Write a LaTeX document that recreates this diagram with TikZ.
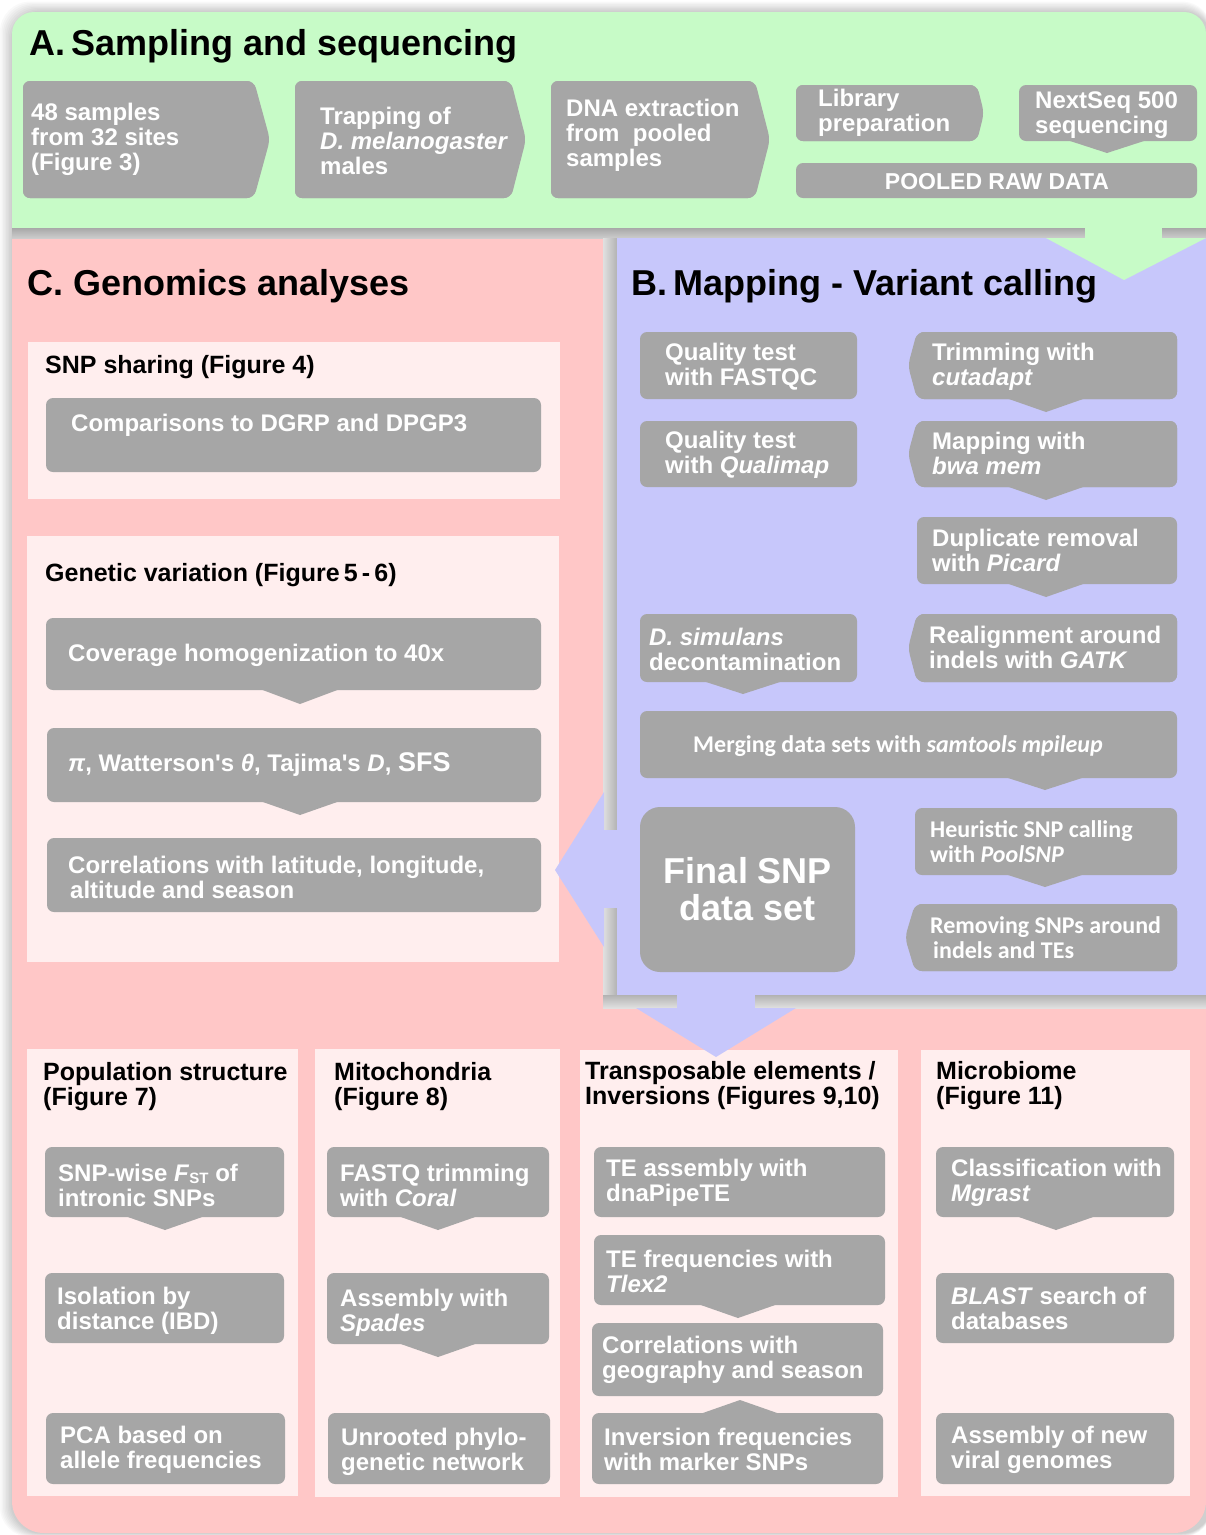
\documentclass[tikz,border=0pt]{standalone}
\usepackage{fontspec}
\setmainfont{Liberation Sans}
\newfontfamily\calib{Carlito}
\usetikzlibrary{calc}
\definecolor{greenbg}{HTML}{C7FBC7}
\definecolor{pinkbg}{HTML}{FFC7C7}
\definecolor{lavbg}{HTML}{C7C7FB}
\definecolor{panelbg}{HTML}{FFEEEE}
\definecolor{boxgray}{HTML}{A6A6A6}
\tikzset{
 gb/.style={fill=boxgray, rounded corners=7pt, inner sep=0pt, outer sep=0pt},
 bt/.style={text=white, font=\bfseries\fontsize{24}{25}\selectfont, align=left, inner sep=0pt, anchor=west},
 ct/.style={text=white, font=\calib\bfseries\fontsize{24}{25}\selectfont, align=left, inner sep=0pt, anchor=west},
 ptitle/.style={text=black, font=\bfseries\fontsize{25}{25}\selectfont, align=left, inner sep=0pt, anchor=west},
 ttl/.style={text=black, font=\bfseries\fontsize{36}{40}\selectfont, inner sep=0pt, anchor=base west},
 subpanel/.style={fill=panelbg, inner sep=0pt, outer sep=0pt},
}
\newcommand\gbx[9]{%
 \node[gb, minimum width={#4-#2}, minimum height={#5-#3}] (#1) at ({(#2+#4)/2},{(#3+#5)/2}) {};
 #8
 \node[bt] (#1t) at (#6,{(#3+#5)/2+#7}) {#9};}
\newcommand\cbx[9]{%
 \node[gb, minimum width={#4-#2}, minimum height={#5-#3}] (#1) at ({(#2+#4)/2},{(#3+#5)/2}) {};
 #8
 \node[ct] (#1t) at (#6,{(#3+#5)/2+#7}) {#9};}
\newcommand\spn[5]{\node[subpanel, minimum width={#4-#2}, minimum height={#5-#3}] (#1) at ({(#2+#4)/2},{(#3+#5)/2}) {};}
\newcommand\tipR[2]{\fill[boxgray, rounded corners=7pt] (#1.north west) -- (#1.north east) -- ($(#1.east)+(#2,0)$) -- (#1.south east) -- (#1.south west) -- cycle;}
\newcommand\tipL[2]{\fill[boxgray, rounded corners=7pt] (#1.north east) -- (#1.north west) -- ($(#1.west)+(-#2,0)$) -- (#1.south west) -- (#1.south east) -- cycle;}
\newcommand\tipD[3]{\coordinate (tipx) at (#2,0);
 \fill[boxgray] ($(tipx |- #1.south)+(-40,-1)$) -- ($(tipx |- #1.south)+(0,#3)$) -- ($(tipx |- #1.south)+(40,-1)$) -- cycle;}
\newcommand\tipU[3]{\coordinate (tipx) at (#2,0);
 \fill[boxgray] ($(tipx |- #1.north)+(-40,1)$) -- ($(tipx |- #1.north)+(0,-#3)$) -- ($(tipx |- #1.north)+(40,1)$) -- cycle;}
\begin{document}
\begin{tikzpicture}[x=1pt,y=-1pt]
\useasboundingbox (0,0) rectangle (1206,1535);
\fill[white] (0,0) rectangle (1206,1535);
\foreach \i in {1,...,8}{\fill[black,opacity=0.025,rounded corners=30] ({12-1.5*\i},{12-1.3*\i}) rectangle (1212,{1533+0.5*\i});}
% panel C background
\fill[pinkbg] (12,200) rectangle (1206,1400);
\fill[pinkbg,rounded corners=32] (12,1100) rectangle (1206,1533);
% panel A background
\fill[greenbg,rounded corners=22] (12,12) rectangle (1206,150);
\fill[greenbg] (12,60) rectangle (1206,228);
\shade[top color=black!34,bottom color=black!20] (12,228) rectangle (1206,238);
% panel B background
\shade[left color=black!12,right color=black!30] (603,238) rectangle (617,1008);
\shade[top color=black!30,bottom color=black!12] (603,995) rectangle (1206,1008);
\fill[lavbg] (617,238) rectangle (1206,995);
% sub panels
\spn{sp1}{28}{342}{560}{499}
\spn{sp2}{27}{536}{559}{962}
\spn{sp3}{27}{1049}{298}{1496}
\spn{sp4}{315}{1049}{560}{1497}
\spn{sp5}{580}{1050}{898}{1497}
\spn{sp6}{921}{1050}{1190}{1496}
% block arrows between panels
\fill[greenbg] (1085,226) rectangle (1162,239);
\fill[greenbg] (1046,238) -- (1206,238) -- (1124,280) -- cycle;
\fill[lavbg] (600,830) rectangle (618,908);
\fill[lavbg] (604,792) -- (555,870) -- (604,947) -- cycle;
\fill[lavbg] (677,993) rectangle (755,1009);
\fill[lavbg] (636,1008) -- (796,1008) -- (716,1057) -- cycle;
% titles
\node[ttl] (titleA) at (29,55) {A.\,Sampling and sequencing};
\node[ttl] (titleB) at (631,295) {B.\,Mapping - Variant calling};
\node[ttl] (titleC) at (27,295) {C. Genomics analyses};
% panel A
\gbx{a1}{23}{81}{254}{198}{31}{0}{\tipR{a1}{16}}{48 samples\\from 32 sites\\(Figure 3)}
\gbx{a2}{295}{81}{511}{198}{320}{1}{\tipR{a2}{15}}{Trapping of\\\textit{D. melanogaster}\\males}
\gbx{a3}{551}{81}{755}{198}{566}{-4}{\tipR{a3}{15}}{DNA extraction\\from\ \ pooled\\samples}
\gbx{a4}{796}{85}{977}{141}{818}{0}{\tipR{a4}{7}}{Library\\preparation}
\gbx{a5}{1019}{85}{1197}{141}{1035}{2}{\tipD{a5}{1107}{12}}{NextSeq 500\\sequencing}
\node[gb, minimum width=401, minimum height=35] (a6) at (996.5,180.5) {};
\node[bt, anchor=center, font=\bfseries\fontsize{23}{25}\selectfont] (a6t) at (997,182) {POOLED RAW DATA};
% panel B
\gbx{q1}{640}{332}{857}{399}{665}{1}{}{Quality test\\with FASTQC}
\gbx{tr}{917}{332}{1177}{399}{932}{1}{\tipL{tr}{9}\tipD{tr}{1046}{13}}{Trimming with\\\textit{cutadapt}}
\gbx{q2}{640}{421}{857}{487}{665}{1}{}{Quality test\\with \textit{Qualimap}}
\gbx{mp}{917}{421}{1177}{487}{932}{-1}{\tipL{mp}{9}\tipD{mp}{1046}{13}}{Mapping with\\\textit{bwa mem}}
\gbx{du}{917}{517}{1177}{584}{932}{0}{\tipD{du}{1046}{13}}{Duplicate removal\\with \textit{Picard}}
\gbx{ds}{640}{614}{857}{682}{649}{1}{\tipD{ds}{743}{12}}{\textit{D. simulans}\\decontamination}
\gbx{ra}{917}{614}{1177}{682}{929}{-1}{\tipL{ra}{9}}{Realignment around\\indels with \textit{GATK}}
\node[gb, minimum width=537, minimum height=67] (mg) at (908.5,744.5) {};
\tipD{mg}{1045}{12}
\node[ct, anchor=center] (mgt) at (898,746) {Merging data sets with \textit{samtools mpileup}};
\node[gb, rounded corners=20pt, minimum width=215, minimum height=165] (fs) at (747.5,889.5) {};
\node[bt, anchor=center, align=center, font=\bfseries\fontsize{36}{37}\selectfont] (fst) at (748,889) {Final SNP\\data set};
\cbx{he}{915}{808}{1177}{875}{930}{0}{\tipD{he}{1045}{12}}{Heuristic SNP calling\\with \textit{PoolSNP}}
\cbx{rm}{915}{904}{1177}{971}{930}{0}{\tipL{rm}{10}}{Removing SNPs around\\\hspace{3pt}indels and TEs}
% panel C
\node[ptitle] (sp1t) at (45,367) {SNP sharing (Figure 4)};
\gbx{cp}{46}{398}{541}{472}{71}{-10}{}{Comparisons to DGRP and DPGP3}
\node[ptitle] (sp2t) at (45,575) {Genetic variation (Figure\,5\,-\,6)};
\gbx{cv}{46}{618}{541}{690}{68}{1}{\tipD{cv}{300}{14}}{Coverage homogenization to 40x}
\gbx{wt}{47}{728}{541}{802}{68}{0}{\tipD{wt}{300}{13}}{\textit{π}, Watterson\textquotesingle s \textit{θ}, Tajima\textquotesingle s \textit{D}, {\fontsize{27}{25}\selectfont SFS}}
\gbx{cr}{47}{838}{541}{912}{68}{2}{}{Correlations with latitude, longitude,\\\hspace{2pt}altitude and season}
% bottom sub panels
\node[ptitle] (sp3t) at (43,1087) {Population structure\\(Figure 7)};
\gbx{p1}{45}{1147}{284}{1217}{58}{3}{\tipD{p1}{165}{13}}{SNP-wise \textit{F}\raisebox{-2pt}{\fontsize{15}{15}\selectfont ST} of\\intronic SNPs}
\gbx{p2}{45}{1273}{284}{1343}{57}{3}{}{Isolation by\\distance (IBD)}
\gbx{p3}{46}{1413}{285}{1484}{60}{1}{}{PCA based on\\allele frequencies}
\node[ptitle] (sp4t) at (334,1087) {Mitochondria\\(Figure 8)};
\gbx{m1}{327}{1147}{549}{1217}{340}{3}{\tipD{m1}{438}{13}}{FASTQ trimming\\with \textit{Coral}}
\gbx{m2}{327}{1273}{549}{1344}{340}{4}{\tipD{m2}{438}{13}}{Assembly with\\\textit{Spades}}
\gbx{m3}{328}{1413}{550}{1484}{341}{3}{}{Unrooted phylo-\\genetic network}
\node[ptitle] (sp5t) at (585,1086) {Transposable elements /\\Inversions (Figures 9,10)};
\gbx{t1}{594}{1147}{885}{1217}{606}{1}{}{TE assembly with\\dnaPipeTE}
\gbx{t2}{594}{1235}{885}{1305}{606}{1}{\tipD{t2}{738}{13}}{TE frequencies with\\\textit{Tlex2}}
\gbx{t3}{592}{1323}{883}{1396}{602}{0}{}{Correlations with\\geography and season}
\gbx{t4}{592}{1413}{883}{1484}{604}{1}{\tipU{t4}{740}{13}}{Inversion frequencies\\with marker SNPs}
\node[ptitle] (sp6t) at (936,1086) {Microbiome\\(Figure 11)};
\gbx{c1}{936}{1147}{1174}{1217}{951}{1}{\tipD{c1}{1056}{13}}{Classification with\\\textit{Mgrast}}
\gbx{c2}{936}{1273}{1174}{1343}{951}{0}{}{\textit{BLAST} search of\\databases}
\gbx{c3}{936}{1413}{1174}{1484}{951}{1}{}{Assembly of new\\viral genomes}
\end{tikzpicture}
\end{document}
